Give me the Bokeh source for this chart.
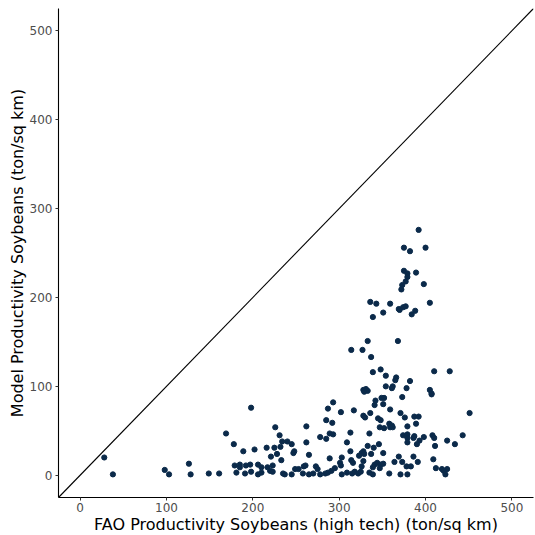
from bokeh.plotting import figure
from bokeh.models import Range1d, Slope, FixedTicker, ColumnDataSource
from bokeh.embed import file_html
from bokeh.resources import INLINE

fao_x = [28, 38, 98, 103, 126, 128, 149, 161, 169, 178, 198, 189, 202, 179, 181, 185, 185, 192, 197, 191,
         198, 206, 206, 293, 287, 302, 285, 292, 226, 262, 231, 289, 293, 278, 285, 234, 240, 245, 262, 309,
         216, 225, 232, 248, 247, 221, 228, 265, 289, 303, 233, 210, 217, 223, 220, 223, 259, 261, 249, 253,
         273, 275, 301, 302, 210, 235, 237, 245, 258, 265, 270, 278, 284, 287, 291, 295, 303, 309, 315, 314,
         373, 407, 349, 352, 342, 341, 351, 317, 359, 328, 330, 336, 371, 376, 387, 392, 345, 348, 389, 358,
         361, 359, 362, 347, 352, 379, 313, 335, 374, 379, 379, 379, 386, 387, 393, 390, 398, 408, 410, 425,
         434, 411, 333, 340, 346, 313, 328, 326, 329, 323, 337, 351, 369, 386, 364, 373, 391, 409, 316, 326,
         328, 341, 344, 348, 351, 339, 347, 378, 383, 412, 419, 425, 421, 423, 318, 322, 325, 335, 339, 358,
         371, 379, 339, 333, 314, 327, 337, 339, 328, 331, 333, 329, 351, 370, 384, 388, 368, 348, 354, 366,
         365, 382, 354, 362, 361, 378, 405, 407, 410, 428, 392, 375, 400, 382, 375, 379, 379, 377, 389, 373,
         372, 398, 336, 343, 359, 405, 369, 374, 377, 451, 443]
model_y = [20, 1, 6, 1, 13, 1, 2, 2, 47, 35, 76, 27, 29, 11, 3, 12, 9, 11, 12, 2,
           4, 12, 1, 82, 75, 71, 62, 59, 54, 55, 45, 47, 46, 43, 41, 38, 38, 35, 37, 37,
           31, 31, 32, 27, 25, 21, 24, 23, 19, 20, 17, 9, 9, 11, 5, 4, 10, 11, 7, 7,
           10, 7, 14, 11, 3, 2, 1, 1, 2, 1, 2, 1, 2, 3, 5, 8, 1, 3, 2, 17,
           88, 91, 87, 87, 84, 79, 80, 73, 74, 67, 65, 70, 70, 65, 66, 66, 64, 62, 58, 58,
           56, 54, 54, 54, 53, 55, 48, 47, 45, 46, 42, 37, 42, 44, 39, 35, 43, 45, 42, 39,
           35, 33, 33, 31, 35, 27, 27, 25, 24, 22, 24, 25, 21, 21, 15, 15, 15, 18, 14, 10,
           16, 12, 14, 12, 13, 9, 8, 10, 10, 8, 7, 7, 5, 1, 4, 2, 4, 3, 1, 2,
           1, 1, 178, 151, 141, 141, 133, 116, 96, 97, 95, 94, 183, 186, 181, 185, 151, 119, 112, 110,
           107, 106, 100, 100, 98, 98, 96, 92, 117, 117, 276, 256, 256, 252, 230, 227, 223, 218, 228, 214,
           209, 215, 195, 193, 193, 194, 187, 189, 190, 70, 45]

ticks = [0, 100, 200, 300, 400, 500]
x_title = "FAO Productivity Soybeans (high tech) (ton/sq km)"
y_title = "Model Productivity Soybeans (ton/sq km)"

src = ColumnDataSource(data=dict(x=fao_x, y=model_y))

p = figure(output_backend="svg", toolbar_location=None,
           frame_width=475, frame_height=489,
           x_range=Range1d(-25, 525), y_range=Range1d(-25, 525),
           min_border_left=58, min_border_right=2, min_border_top=8, min_border_bottom=36,
           background_fill_color="white", border_fill_color="white")
p.outline_line_color = None
p.grid.visible = False

p.add_layout(Slope(gradient=1, y_intercept=0, line_color="black", line_width=1.1))
p.scatter("x", "y", source=src, size=5.2, fill_color="#0b2a4a", line_color="#0b2a4a")

for ax in (p.xaxis[0], p.yaxis[0]):
    ax.ticker = FixedTicker(ticks=ticks)
    ax.axis_line_color = "black"
    ax.axis_line_width = 1.1
    ax.major_tick_line_color = "#333333"
    ax.major_tick_in = 0
    ax.major_tick_out = 3
    ax.minor_tick_line_color = None
    ax.major_label_text_color = "#4d4d4d"
    ax.major_label_text_font = "DejaVu Sans"
    ax.major_label_text_font_size = "12px"
    ax.axis_label_text_font = "DejaVu Sans"
    ax.axis_label_text_font_style = "normal"
    ax.axis_label_text_font_size = "16px"
    ax.axis_label_text_color = "black"

p.xaxis[0].major_label_standoff = 2
p.xaxis[0].axis_label_standoff = 0
p.yaxis[0].major_label_standoff = 3
p.yaxis[0].axis_label_standoff = 0

p.xaxis[0].axis_label = x_title
p.yaxis[0].axis_label = y_title

open("out.html", "w").write(file_html(p, INLINE))
